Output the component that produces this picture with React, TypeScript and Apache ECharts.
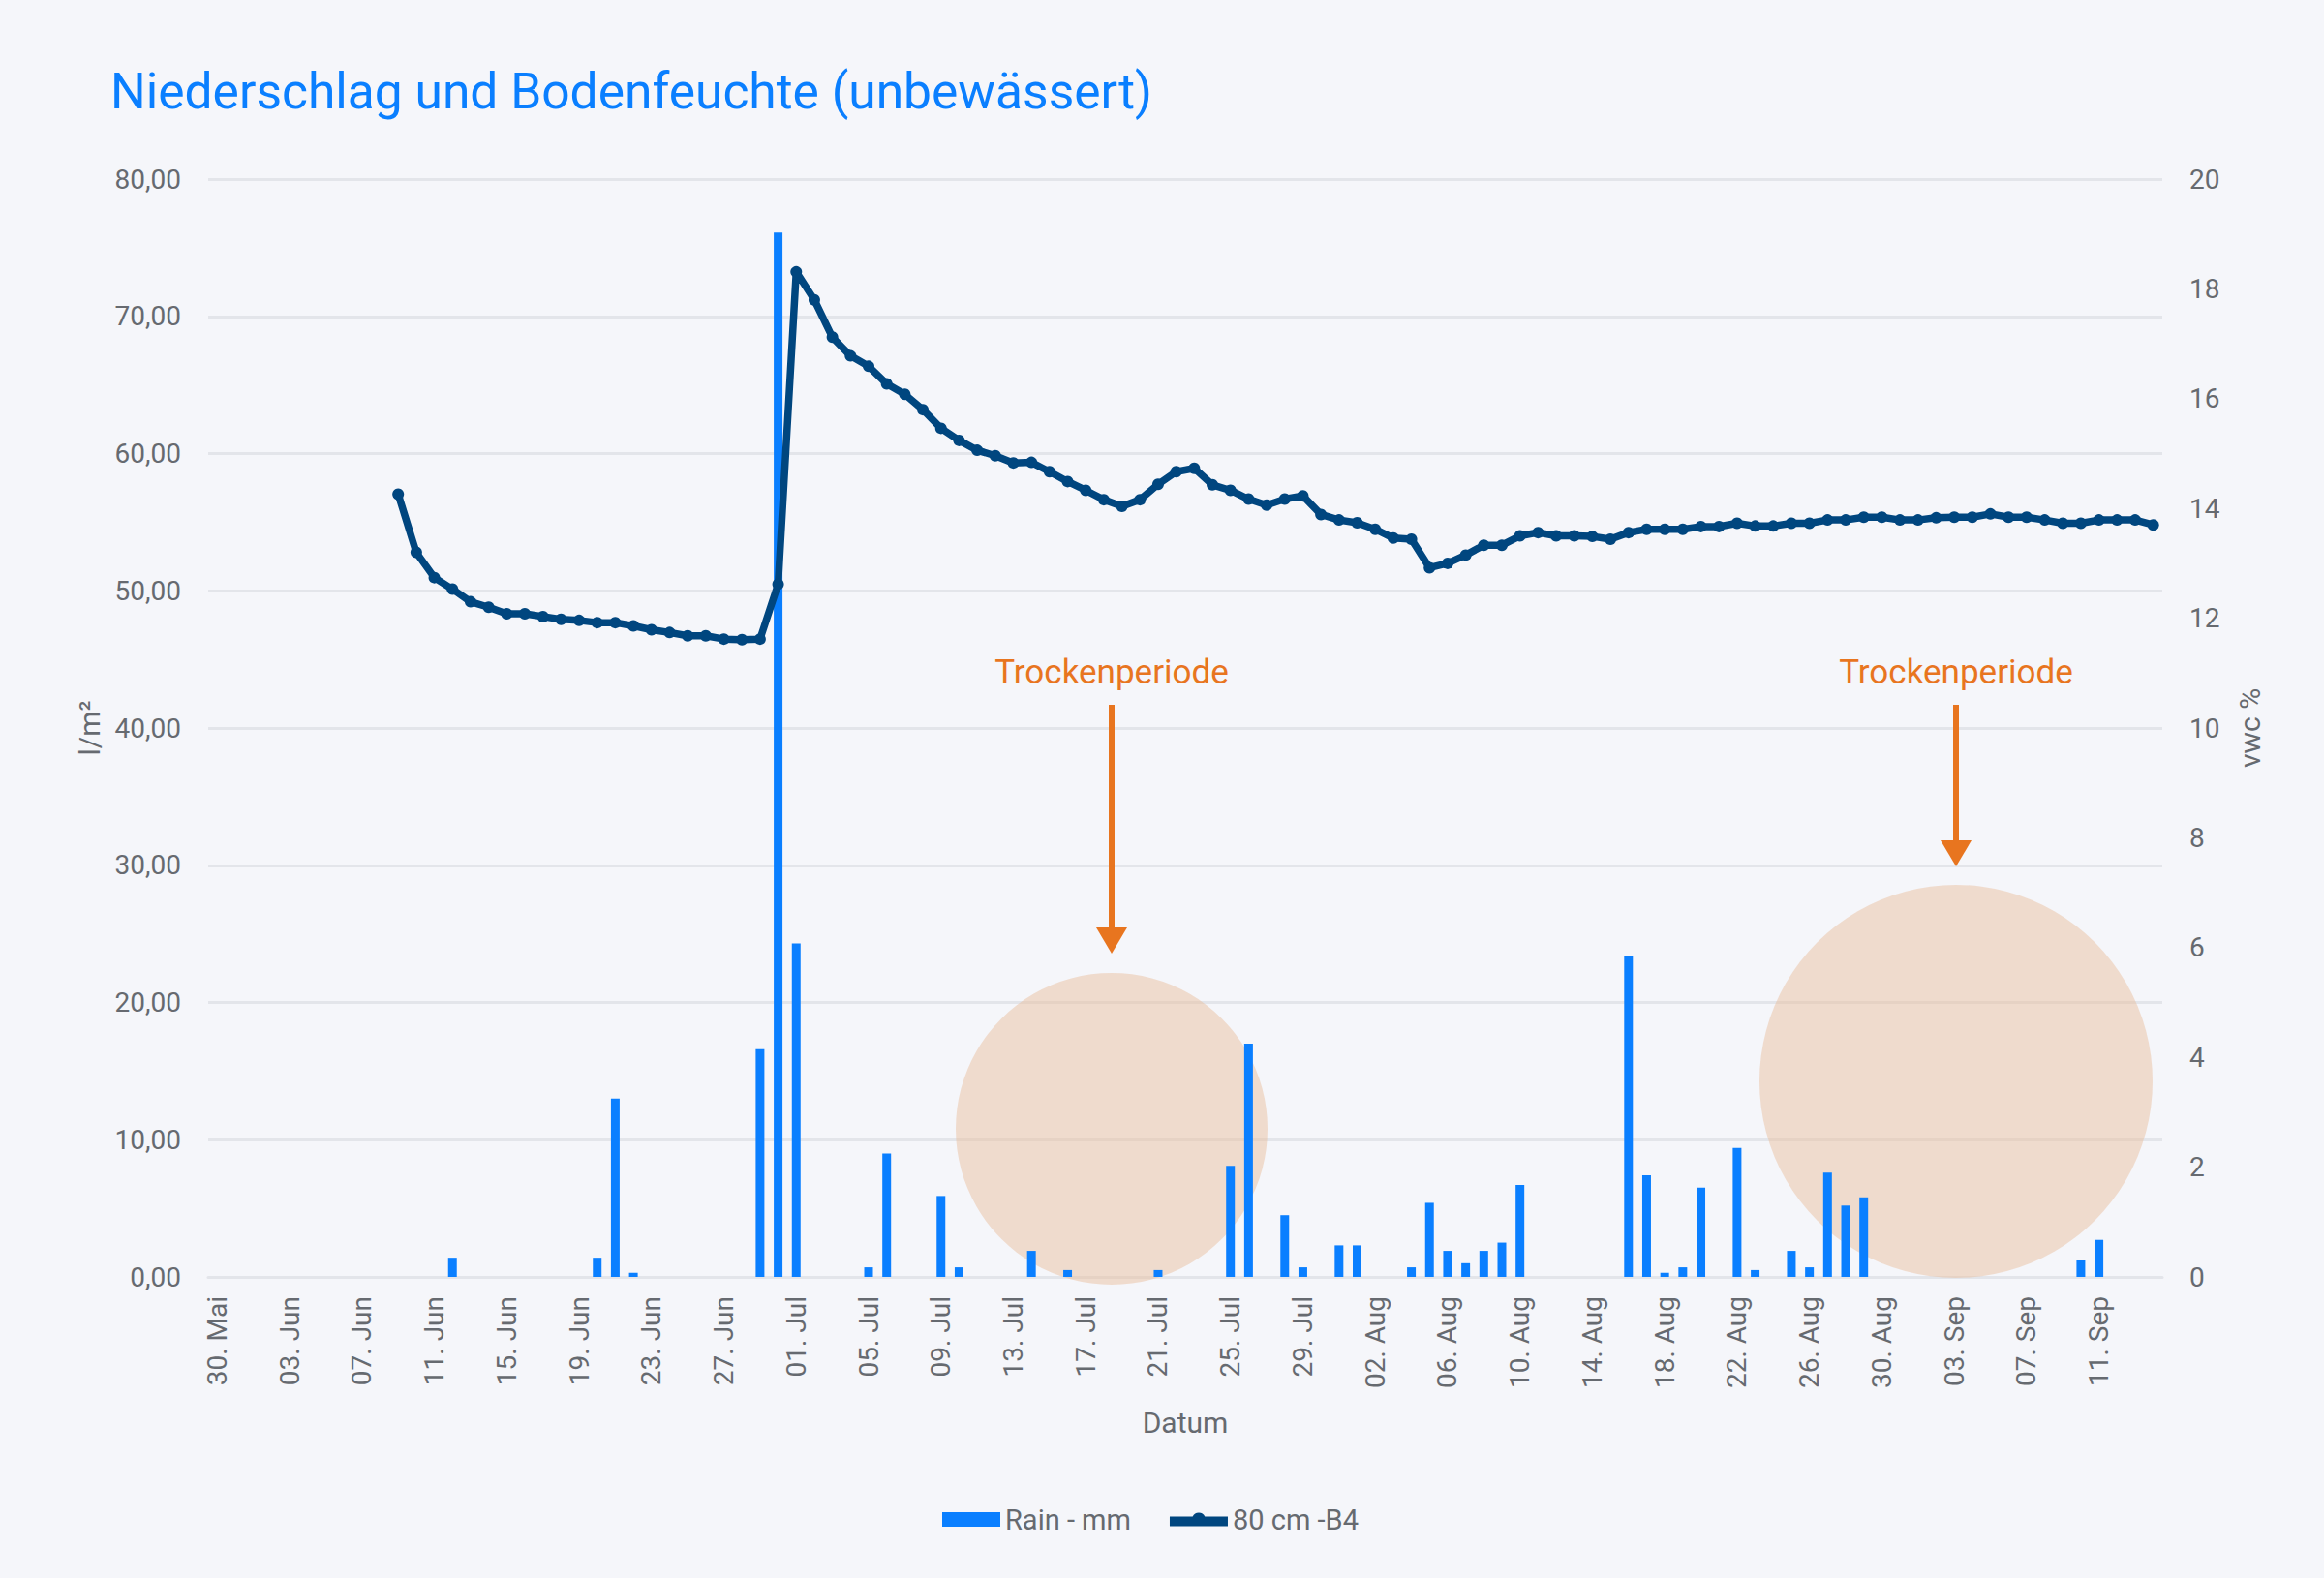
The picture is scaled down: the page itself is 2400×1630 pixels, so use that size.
import React, { useEffect, useRef } from "react";
import * as echarts from "echarts";

// ---- Data ----
const monthNames = ["Mai", "Jun", "Jul", "Aug", "Sep"];
const monthStartDay = [30, 1, 1, 1, 1];
const monthEndDay = [31, 30, 31, 31, 14];

const categories: string[] = [];
monthNames.forEach((m, k) => {
  for (let d = monthStartDay[k]; d <= monthEndDay[k]; d++) {
    categories.push(`${String(d).padStart(2, "0")}. ${m}`);
  }
});

// Rain - mm (l/m²), one value per day from 30. Mai
const rainMm: (number | null)[] = [
  null, null, null, null, null, null, null, null, null, null,
  null, null, null, 1.4, null, null, null, null, null, null,
  null, 1.4, 13.0, 0.3, null, null, null, null, null, null,
  16.6, 76.1, 24.3, null, null, null, 0.7, 9.0, null, null,
  5.9, 0.7, null, null, null, 1.9, null, 0.5, null, null,
  null, null, 0.5, null, null, null, 8.1, 17.0, null, 4.5,
  0.7, null, 2.3, 2.3, null, null, 0.7, 5.4, 1.9, 1.0,
  1.9, 2.5, 6.7, null, null, null, null, null, 23.4, 7.4,
  0.3, 0.7, 6.5, null, 9.4, 0.5, null, 1.9, 0.7, 7.6,
  5.2, 5.8, null, null, null, null, null, null, null, null,
  null, null, null, 1.2, 2.7, null, null, null,
];

// 80 cm -B4 soil moisture (vwc %)
const vwc80cm: (number | null)[] = [
  null, null, null, null, null, null, null, null, null, null,
  14.26, 13.2, 12.74, 12.53, 12.3, 12.2, 12.08, 12.08, 12.03, 11.98,
  11.96, 11.92, 11.92, 11.86, 11.79, 11.74, 11.68, 11.68, 11.62, 11.61,
  11.62, 12.62, 18.31, 17.8, 17.12, 16.78, 16.59, 16.27, 16.08, 15.8,
  15.46, 15.24, 15.06, 14.96, 14.83, 14.84, 14.67, 14.49, 14.33, 14.16,
  14.04, 14.16, 14.44, 14.67, 14.73, 14.43, 14.33, 14.17, 14.06, 14.17,
  14.23, 13.89, 13.79, 13.74, 13.62, 13.46, 13.44, 12.92, 13.0, 13.15,
  13.33, 13.33, 13.5, 13.56, 13.5, 13.5, 13.49, 13.44, 13.56, 13.62,
  13.62, 13.62, 13.67, 13.67, 13.73, 13.68, 13.68, 13.73, 13.73, 13.79,
  13.79, 13.84, 13.84, 13.79, 13.79, 13.83, 13.84, 13.84, 13.9, 13.84,
  13.84, 13.79, 13.73, 13.73, 13.79, 13.79, 13.79, 13.7,
];

const seriesNames = ["Rain - mm", "80 cm -B4"];
const annotationText = "Trockenperiode";

const BLUE = "#0a7fff";
const NAVY = "#00467f";
const ORANGE = "#e8751f";
const GRAY = "#666a70";
const FONT = "Roboto, sans-serif";

// legend icon: thick line with a small circle bump on top
const LINE_ICON = "path://M0,5 L23.68,5 A7,7 0 0 1 36.32,5 L60,5 L60,15 L0,15 Z";

function arrow(x: number, y1: number, y2: number, text: string, cy: number, r: number) {
  return [
    {
      type: "circle",
      z: 1,
      silent: true,
      shape: { cx: x, cy, r },
      style: { fill: "rgba(232,187,150,0.45)" },
    },
    {
      type: "text",
      z: 10,
      style: {
        x,
        y: 694,
        text,
        fill: ORANGE,
        font: `35px ${FONT}`,
        textAlign: "center",
        textVerticalAlign: "middle",
      },
    },
    {
      type: "line",
      z: 10,
      shape: { x1: x, y1, x2: x, y2: y2 - 26 },
      style: { stroke: ORANGE, lineWidth: 6 },
    },
    {
      type: "polygon",
      z: 10,
      shape: { points: [[x - 16, y2 - 27], [x + 16, y2 - 27], [x, y2]] },
      style: { fill: ORANGE },
    },
  ];
}

export default function App() {
  const ref = useRef<HTMLDivElement>(null);
  useEffect(() => {
    if (!ref.current) return;
    const chart = echarts.init(ref.current, undefined, { renderer: "svg" });
    chart.setOption({
      animation: false,
      backgroundColor: "#f5f6fa",
      textStyle: { fontFamily: FONT },
      title: {
        text: "Niederschlag und Bodenfeuchte (unbewässert)",
        left: 109,
        top: 63,
        textStyle: { color: BLUE, fontSize: 51.5, fontWeight: "normal", fontFamily: FONT },
      },
      legend: {
        left: 968,
        top: 1550,
        itemWidth: 60,
        itemHeight: 15,
        itemGap: 40,
        textStyle: { color: GRAY, fontSize: 29, fontFamily: FONT },
        data: [
          { name: seriesNames[0], icon: "rect" },
          {
            name: seriesNames[1],
            icon: LINE_ICON,
            itemStyle: { color: NAVY },
          },
        ],
      },
      grid: { left: 215, right: 167, top: 185, bottom: 311, containLabel: false },
      xAxis: {
        type: "category",
        data: categories,
        boundaryGap: true,
        name: "Datum",
        nameLocation: "middle",
        nameGap: 135,
        nameTextStyle: { color: GRAY, fontSize: 30, fontFamily: FONT },
        axisLine: { show: true, lineStyle: { color: "#e3e5ea", width: 3 } },
        axisTick: { show: false },
        axisLabel: {
          interval: 3,
          rotate: 90,
          margin: 20,
          color: GRAY,
          fontSize: 28,
          fontFamily: FONT,
        },
      },
      yAxis: [
        {
          type: "value",
          min: 0,
          max: 80,
          interval: 10,
          name: "l/m²",
          nameLocation: "middle",
          nameRotate: 90,
          nameGap: 108,
          nameTextStyle: { color: GRAY, fontSize: 30, fontFamily: FONT },
          axisLine: { show: false },
          axisTick: { show: false },
          axisLabel: {
            margin: 28,
            color: GRAY,
            fontSize: 28,
            fontFamily: FONT,
            formatter: (v: number) => v.toFixed(2).replace(".", ","),
          },
          splitLine: { show: true, lineStyle: { color: "#e3e5ea", width: 3 } },
        },
        {
          type: "value",
          min: 0,
          max: 20,
          interval: 2,
          position: "right",
          name: "vwc %",
          nameLocation: "middle",
          nameRotate: 90,
          nameGap: 75,
          nameTextStyle: { color: GRAY, fontSize: 30, fontFamily: FONT },
          axisLine: { show: false },
          axisTick: { show: false },
          axisLabel: { margin: 28, color: GRAY, fontSize: 28, fontFamily: FONT },
          splitLine: { show: false },
        },
      ],
      series: [
        {
          name: seriesNames[0],
          type: "bar",
          yAxisIndex: 0,
          data: rainMm,
          barWidth: 9,
          itemStyle: { color: BLUE },
        },
        {
          name: seriesNames[1],
          type: "line",
          yAxisIndex: 1,
          data: vwc80cm,
          symbol: "circle",
          symbolSize: 12,
          showSymbol: true,
          lineStyle: { color: NAVY, width: 7.5 },
          itemStyle: { color: NAVY },
        },
      ],
      graphic: [
        ...arrow(1148, 728, 985, annotationText, 1166, 161),
        ...arrow(2020, 728, 895, annotationText, 1117, 203),
      ],
    });
    return () => chart.dispose();
  }, []);
  return (
    <div
      ref={ref}
      style={{ position: "fixed", left: 0, top: 0, width: 2400, height: 1630 }}
    />
  );
}
